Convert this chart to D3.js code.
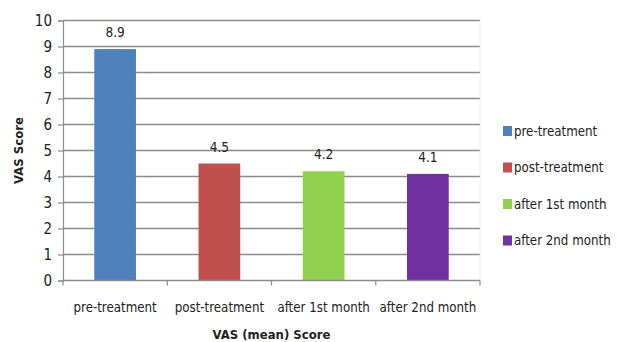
<!DOCTYPE html>
<html>
<head>
<meta charset="utf-8">
<script src="https://cdn.jsdelivr.net/npm/d3@7"></script>
<style>
  html, body { margin: 0; padding: 0; background: #fff; }
  svg { display: block; }
  text { font-family: "DejaVu Sans Condensed", "Liberation Sans Narrow", "Open Sans", sans-serif; fill: #222; }
</style>
</head>
<body>
<svg id="chart" width="618" height="342"></svg>
<script>
// VAS mean scores across follow-up points
const categories = ["pre-treatment", "post-treatment", "after 1st month", "after 2nd month"];
const values = [8.9, 4.5, 4.2, 4.1];
const colors = ["#4F81BD", "#C0504D", "#92D050", "#7030A0"];
const yTicks = [0, 1, 2, 3, 4, 5, 6, 7, 8, 9, 10];

const svg = d3.select("#chart");
const plotLeft = 63, plotRight = 480, plotTop = 20.5, plotBottom = 280.5;

const x = d3.scaleBand().domain(categories).range([plotLeft, plotRight]).paddingInner(0.6).paddingOuter(0.3);
const xOuter = d3.scaleBand().domain(categories).range([plotLeft, plotRight]);
const y = d3.scaleLinear().domain([0, 10]).range([plotBottom, plotTop]);

// horizontal gridlines
svg.append("g").selectAll("line").data(yTicks.filter(d => d > 0)).join("line")
  .attr("x1", plotLeft).attr("x2", plotRight)
  .attr("y1", d => y(d)).attr("y2", d => y(d))
  .attr("stroke", "#8c8c8c").attr("stroke-width", 1.5);

// y axis
const yAxis = d3.axisLeft(y).tickValues(yTicks).tickSize(5).tickPadding(6).tickFormat(d3.format("d"));
const gy = svg.append("g").attr("transform", `translate(${plotLeft},0)`).call(yAxis);
gy.select(".domain").attr("stroke", "#8c8c8c").attr("stroke-width", 1.2);
gy.selectAll(".tick line").attr("stroke", "#8c8c8c").attr("stroke-width", 1.2);
gy.selectAll(".tick text").attr("font-size", 15).style("fill", "#222")
  .style("font-family", "'DejaVu Sans Condensed', sans-serif");

// bars
svg.append("g").selectAll("rect").data(values).join("rect")
  .attr("x", (d, i) => x(categories[i]))
  .attr("width", x.bandwidth())
  .attr("y", d => y(d))
  .attr("height", d => y(0) - y(d))
  .attr("fill", (d, i) => colors[i]);

// value labels
svg.append("g").selectAll("text").data(values).join("text")
  .attr("x", (d, i) => x(categories[i]) + x.bandwidth() / 2)
  .attr("y", d => y(d) - 12)
  .attr("text-anchor", "middle")
  .attr("font-size", 13.5)
  .text(d => d3.format(".1f")(d));

// x axis with boundary ticks between categories
const gx = svg.append("g");
gx.append("line").attr("x1", plotLeft).attr("x2", plotRight).attr("y1", plotBottom).attr("y2", plotBottom)
  .attr("stroke", "#8c8c8c").attr("stroke-width", 1.5);
const bounds = categories.map(c => xOuter(c)).concat([plotRight]);
gx.selectAll("line.tk").data(bounds).join("line").attr("class", "tk")
  .attr("x1", d => d).attr("x2", d => d)
  .attr("y1", plotBottom).attr("y2", plotBottom + 5)
  .attr("stroke", "#8c8c8c").attr("stroke-width", 1.2);
gx.selectAll("text").data(categories).join("text")
  .attr("x", d => xOuter(d) + xOuter.bandwidth() / 2)
  .attr("y", 312)
  .attr("text-anchor", "middle")
  .attr("font-size", 13.2)
  .text(d => d);

// right edge line
svg.append("line").attr("x1", plotRight).attr("x2", plotRight).attr("y1", plotTop).attr("y2", plotBottom)
  .attr("stroke", "#d8d8d8").attr("stroke-width", 1).attr("stroke-dasharray", "2,2");

// axis titles
svg.append("text")
  .attr("transform", `translate(23,${(plotTop + plotBottom) / 2}) rotate(-90)`)
  .attr("text-anchor", "middle")
  .attr("font-size", 13).attr("font-weight", "bold")
  .text("VAS Score");
svg.append("text")
  .attr("x", (plotLeft + plotRight) / 2).attr("y", 338.5)
  .attr("text-anchor", "middle")
  .attr("font-size", 13).attr("font-weight", "bold")
  .text("VAS (mean) Score");

// legend
const legend = svg.append("g").selectAll("g").data(categories).join("g")
  .attr("transform", (d, i) => `translate(503,${131 + i * 36.5})`);
legend.append("rect").attr("x", 0).attr("y", -5).attr("width", 9).attr("height", 10)
  .attr("fill", (d, i) => colors[i]);
legend.append("text").attr("x", 11).attr("y", 4.5).attr("font-size", 13.2).text(d => d);
</script>
</body>
</html>
